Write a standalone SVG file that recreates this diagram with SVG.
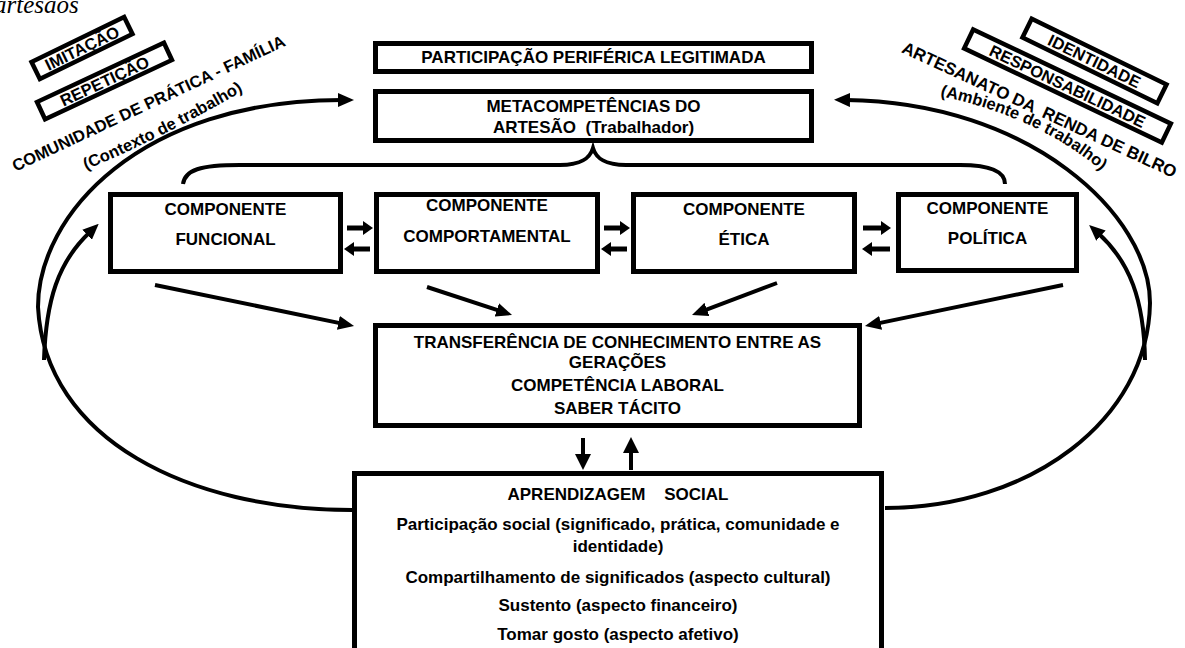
<svg xmlns="http://www.w3.org/2000/svg" width="1185" height="648" viewBox="0 0 1185 648">
<defs>
<style>
.box{fill:#fff;stroke:#000;stroke-width:5}
.lb{fill:#fff;stroke:#000;stroke-width:4.5}
.t{font-family:"Liberation Sans",Arial,sans-serif;font-weight:bold;font-size:17px;text-anchor:middle;white-space:pre;fill:#000}
.r{font-size:16.5px}
.c{fill:none;stroke:#000;stroke-width:4}
.s{fill:none;stroke:#000;stroke-width:5}
</style>
<marker id="a1" viewBox="0 0 16 14" markerUnits="userSpaceOnUse" markerWidth="16" markerHeight="14" refX="4" refY="7" orient="auto"><path d="M0,0L16,7L0,14z" fill="#000"/></marker>
<marker id="a2" viewBox="0 0 10 14" markerUnits="userSpaceOnUse" markerWidth="10" markerHeight="14" refX="2" refY="7" orient="auto"><path d="M0,0L10,7L0,14z" fill="#000"/></marker>
<marker id="a3" viewBox="0 0 16 16" markerUnits="userSpaceOnUse" markerWidth="16" markerHeight="16" refX="4" refY="8" orient="auto"><path d="M0,0L16,8L0,16z" fill="#000"/></marker>
<path id="pCont" d="M86,170 Q175,132 256,83"/>
<path id="pAmb" d="M940,96 Q1045,118 1112,180"/>
</defs>
<rect width="1185" height="648" fill="#fff"/>
<text x="-6" y="13" style="font-family:'Liberation Serif','Times New Roman',serif;font-style:italic;font-size:25px">artesãos</text>

<g id="connectors">
<path class="c" d="M183,184 C185,170 200,165 240,165 L560,165 C582,165 590,158 593,148 C596,158 604,165 626,165 L960,165 C998,165 1005,175 1005,184"/>
<path class="c" marker-end="url(#a1)" d="M352,510 C190,510 45,440 38,307 C38,215 140,100 342,100"/>
<path class="c" marker-end="url(#a1)" d="M44,360 C46,300 58,262 90,232"/>
<path class="c" marker-end="url(#a1)" d="M885,508 C1030,508 1148,420 1150,303 C1150,215 1030,102 846,100"/>
<path class="c" marker-end="url(#a1)" d="M1145,360 C1144,300 1130,262 1098,233"/>
<path class="c" marker-end="url(#a1)" d="M155,285 L342.3,323.6"/>
<path class="c" marker-end="url(#a1)" d="M427,287 L500.6,311.2"/>
<path class="c" marker-end="url(#a1)" d="M777,283 L703.2,310.8"/>
<path class="c" marker-end="url(#a1)" d="M1063,285 L876.7,323.6"/>
<path class="s" marker-end="url(#a2)" d="M347,228 H365"/>
<path class="s" marker-end="url(#a2)" d="M370,249 H352"/>
<path class="s" marker-end="url(#a2)" d="M604,228 H622"/>
<path class="s" marker-end="url(#a2)" d="M627,249 H609"/>
<path class="s" marker-end="url(#a2)" d="M863,228 H883"/>
<path class="s" marker-end="url(#a2)" d="M890,249 H870"/>
<path class="c" marker-end="url(#a3)" d="M583,438 V458"/>
<path class="c" marker-end="url(#a3)" d="M631,470 V449"/>
</g>

<g id="imitacao" transform="translate(82,48) rotate(-26)">
<rect class="lb" x="-51.5" y="-9.5" width="103" height="19"/>
<text class="t r" y="6">IMITAÇÃO</text>
</g>
<g id="repeticao" transform="translate(104.5,81) rotate(-25)">
<rect class="lb" x="-70" y="-9.5" width="140" height="19"/>
<text class="t r" y="6">REPETIÇÃO</text>
</g>
<g id="comunidade">
<text class="t r" transform="translate(151,108.5) rotate(-25)">COMUNIDADE DE PRÁTICA - FAMÍLIA</text>
<text class="t r" style="text-anchor:start"><textPath href="#pCont">(Contexto de trabalho)</textPath></text>
</g>

<g id="identidade" transform="translate(1094.5,61) rotate(26)">
<rect class="lb" x="-75" y="-10.5" width="150" height="21"/>
<text class="t r" y="6">IDENTIDADE</text>
</g>
<g id="responsabilidade" transform="translate(1067.5,86) rotate(25.5)">
<rect class="lb" x="-109.5" y="-10.5" width="219" height="21"/>
<text class="t r" y="6">RESPONSABILIDADE</text>
</g>
<g id="artesanato">
<text class="t" transform="translate(1037,115) rotate(24.8)">ARTESANATO DA  RENDA DE BILRO</text>
<text class="t r" style="text-anchor:start"><textPath href="#pAmb">(Ambiente de trabalho)</textPath></text>
</g>

<g id="participacao">
<rect class="box" x="375.5" y="43.5" width="436" height="28"/>
<text class="t" x="593.5" y="63">PARTICIPAÇÃO PERIFÉRICA LEGITIMADA</text>
</g>
<g id="metacompetencias">
<rect class="box" x="375.5" y="91.5" width="436" height="49"/>
<text class="t" x="593.5" y="112">METACOMPETÊNCIAS DO</text>
<text class="t" x="593.5" y="133">ARTESÃO  (Trabalhador)</text>
</g>

<g id="funcional">
<rect class="box" x="110.5" y="194.5" width="230" height="77"/>
<text class="t" x="225.5" y="215">COMPONENTE</text>
<text class="t" x="225.5" y="245">FUNCIONAL</text>
</g>
<g id="comportamental">
<rect class="box" x="376.5" y="194.5" width="221" height="77"/>
<text class="t" x="487" y="211">COMPONENTE</text>
<text class="t" x="487" y="242">COMPORTAMENTAL</text>
</g>
<g id="etica">
<rect class="box" x="633.5" y="194.5" width="221" height="77"/>
<text class="t" x="744" y="215">COMPONENTE</text>
<text class="t" x="744" y="245">ÉTICA</text>
</g>
<g id="politica">
<rect class="box" x="898.5" y="194.5" width="178" height="76"/>
<text class="t" x="987.5" y="214">COMPONENTE</text>
<text class="t" x="987.5" y="244">POLÍTICA</text>
</g>

<g id="transferencia">
<rect class="box" x="375.5" y="325.5" width="484" height="100"/>
<text class="t" x="617.5" y="348">TRANSFERÊNCIA DE CONHECIMENTO ENTRE AS</text>
<text class="t" x="617.5" y="368">GERAÇÕES</text>
<text class="t" x="617.5" y="391">COMPETÊNCIA LABORAL</text>
<text class="t" x="617.5" y="414">SABER TÁCITO</text>
</g>

<g id="aprendizagem">
<rect class="box" x="354.5" y="473.5" width="527" height="200"/>
<text class="t" x="618" y="500">APRENDIZAGEM    SOCIAL</text>
<text class="t" x="618" y="530">Participação social (significado, prática, comunidade e</text>
<text class="t" x="618" y="552">identidade)</text>
<text class="t" x="618" y="583">Compartilhamento de significados (aspecto cultural)</text>
<text class="t" x="618" y="611">Sustento (aspecto financeiro)</text>
<text class="t" x="618" y="640">Tomar gosto (aspecto afetivo)</text>
</g>
</svg>
